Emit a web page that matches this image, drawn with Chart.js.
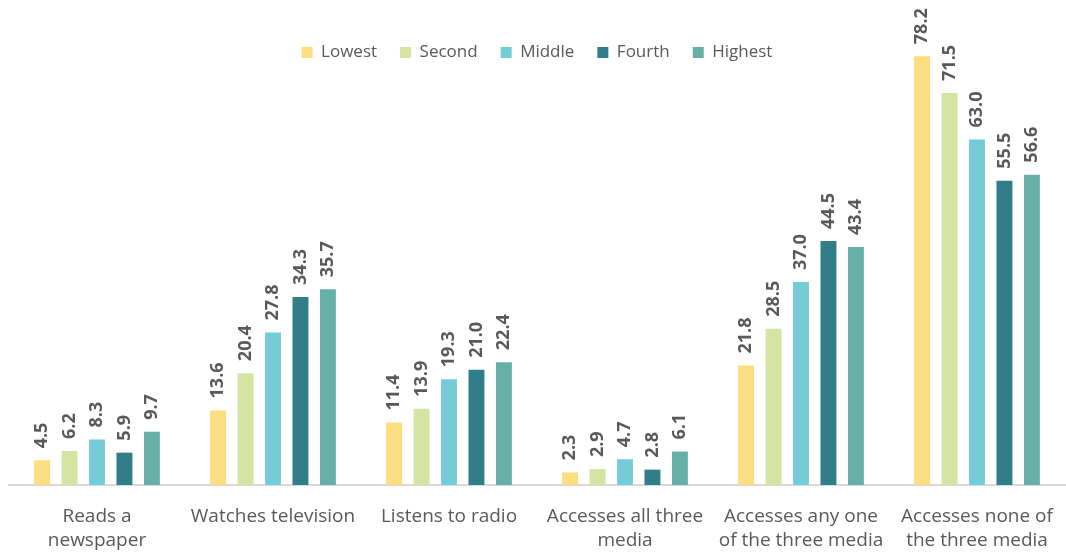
<!DOCTYPE html>
<html>
<head>
<meta charset="utf-8">
<script src="https://cdn.jsdelivr.net/npm/chart.js@4/dist/chart.umd.min.js"></script>
<style>
  html, body { margin: 0; padding: 0; background: #fff; }
  #wrap { width: 1066px; height: 552px; }
</style>
</head>
<body>
<div id="wrap"><canvas id="mediaChart" width="1066" height="552"></canvas></div>
<script>
// media access by wealth quintile (%)
const categories = [
  ['Reads a', 'newspaper'],
  'Watches television',
  'Listens to radio',
  ['Accesses all three', 'media'],
  ['Accesses any one', 'of the three media'],
  ['Accesses none of', 'the three media']
];
const quintiles = ['Lowest', 'Second', 'Middle', 'Fourth', 'Highest'];
const lowest  = [4.5, 13.6, 11.4, 2.3, 21.8, 78.2];
const second  = [6.2, 20.4, 13.9, 2.9, 28.5, 71.5];
const middle  = [8.3, 27.8, 19.3, 4.7, 37.0, 63.0];
const fourth  = [5.9, 34.3, 21.0, 2.8, 44.5, 55.5];
const highest = [9.7, 35.7, 22.4, 6.1, 43.4, 56.6];
const colors = ['#FDDE7F', '#D3E4A3', '#74CDD6', '#2F7E8A', '#66AFA6'];

const series = [lowest, second, middle, fourth, highest];
const fontFamily = '"Open Sans", Lato, sans-serif';

// value labels drawn vertically above each bar
const barLabels = {
  id: 'barLabels',
  afterDatasetsDraw(chart) {
    const ctx = chart.ctx;
    ctx.save();
    ctx.fillStyle = '#595959';
    ctx.font = 'bold 18px ' + fontFamily;
    ctx.textAlign = 'left';
    ctx.textBaseline = 'middle';
    chart.data.datasets.forEach((ds, i) => {
      chart.getDatasetMeta(i).data.forEach((bar, j) => {
        ctx.save();
        ctx.translate(bar.x, bar.y - 12);
        ctx.rotate(-Math.PI / 2);
        ctx.fillText(ds.data[j].toFixed(1), 0, 0);
        ctx.restore();
      });
    });
    ctx.restore();
  }
};

new Chart(document.getElementById('mediaChart').getContext('2d'), {
  type: 'bar',
  data: {
    labels: categories,
    datasets: quintiles.map((q, i) => ({
      label: q,
      data: series[i],
      backgroundColor: colors[i],
      barPercentage: 0.58,
      categoryPercentage: 0.78,
      clip: false
    }))
  },
  options: {
    responsive: false,
    animation: false,
    layout: { padding: { top: 21, left: 9, right: 1, bottom: 0 } },
    plugins: {
      legend: {
        position: 'top',
        align: 'center',
        labels: {
          boxWidth: 11,
          boxHeight: 11,
          padding: 23,
          color: '#595959',
          font: { family: fontFamily, size: 17 }
        }
      },
      tooltip: { enabled: false }
    },
    scales: {
      x: {
        grid: { display: false },
        border: { display: true, color: '#D9D9D9', width: 2 },
        ticks: {
          color: '#595959',
          padding: 11,
          maxRotation: 0,
          autoSkip: false,
          font: { family: fontFamily, size: 19, lineHeight: 1.3 }
        },
        // keep the axis band tight so the baseline sits low
        afterFit(scale) { scale.height = 67; }
      },
      y: {
        display: false,
        min: 0,
        max: 75.5
      }
    }
  },
  plugins: [barLabels]
});
</script>
</body>
</html>
